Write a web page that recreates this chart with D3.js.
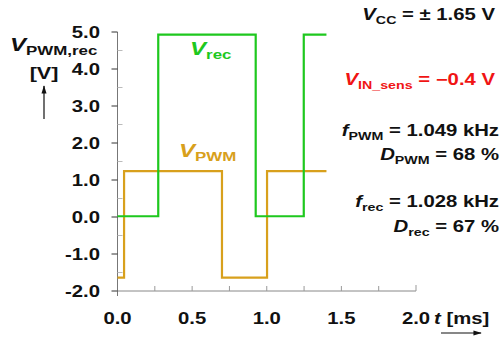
<!DOCTYPE html>
<html>
<head>
<meta charset="utf-8">
<script src="https://cdn.jsdelivr.net/npm/d3@7"></script>
<style>
	body { margin: 0; background: #fff; }
	svg text { font-family: Arial, "Liberation Sans", sans-serif; font-weight: bold; }
</style>
</head>
<body>
<div id="chart"></div>
<script>
// waveform data (t in ms, volts)
const recTime = [0, 0.273, 0.273, 0.926, 0.926, 1.248, 1.248, 1.40];
const recVolt = [0.02, 0.02, 4.93, 4.93, 0.02, 0.02, 4.93, 4.93];
const pwmTime = [0, 0.044, 0.044, 0.700, 0.700, 1.002, 1.002, 1.40];
const pwmVolt = [-1.64, -1.64, 1.24, 1.24, -1.64, -1.64, 1.24, 1.24];

const xTicks = [0, 0.5, 1.0, 1.5, 2.0];
const xMinorTicks = [0.25, 0.5, 0.75, 1.0, 1.25, 1.5, 1.75];
const yTicks = [-2, -1, 0, 1, 2, 3, 4, 5];
const yMinorTicks = [-1.5, -0.5, 0.5, 1.5, 2.5, 3.5, 4.5];

const width = 501, height = 337;
const green = '#1ec81e', gold = '#d8a01c', red = '#f01414';
const stretch = 1.27; // glyphs in the original are wide

let svg = d3.select('#chart').append('svg')
	.attr('width', width)
	.attr('height', height);

let x = d3.scaleLinear().domain([0, 2]).range([117.5, 416]);
let y = d3.scaleLinear().domain([-2, 5]).range([291, 32]);

// text with italic symbol + subscript parts
function richText(px, py, parts, anchor, color, size) {
	let g = svg.append('g')
		.attr('transform', `translate(${px},${py}) scale(${stretch},1)`);
	let t = g.append('text')
		.attr('text-anchor', anchor)
		.attr('fill', color)
		.style('font-size', size + 'px');
	let shifted = 0;
	parts.forEach(p => {
		let dy = 0;
		if (p.sub && !shifted) { dy = 4; shifted = 4; }
		else if (!p.sub && shifted) { dy = -shifted; shifted = 0; }
		t.append('tspan')
			.attr('dy', dy)
			.style('font-style', p.it ? 'italic' : 'normal')
			.style('font-size', (p.sub ? size * 0.7 : size) + 'px')
			.text(p.t);
	});
	return t;
}

// axes
let axisGroup = svg.append('g').attr('class', 'axis-group');

axisGroup.append('line')
	.attr('x1', x(0)).attr('x2', x(0))
	.attr('y1', y(5)).attr('y2', y(-2) + 5)
	.attr('stroke', '#777').attr('stroke-width', 1);
axisGroup.append('line')
	.attr('x1', x(0)).attr('x2', x(2))
	.attr('y1', y(-2)).attr('y2', y(-2))
	.attr('stroke', '#888').attr('stroke-width', 1);

axisGroup.selectAll('.ytick').data(yTicks).join('line')
	.attr('class', 'ytick')
	.attr('x1', x(0) - 6).attr('x2', x(0))
	.attr('y1', d => y(d)).attr('y2', d => y(d))
	.attr('stroke', '#333');
axisGroup.selectAll('.yminor').data(yMinorTicks).join('line')
	.attr('class', 'yminor')
	.attr('x1', x(0)).attr('x2', x(0) + 5)
	.attr('y1', d => y(d)).attr('y2', d => y(d))
	.attr('stroke', '#bbb');
axisGroup.selectAll('.xminor').data(xMinorTicks).join('line')
	.attr('class', 'xminor')
	.attr('x1', d => x(d)).attr('x2', d => x(d))
	.attr('y1', y(-2)).attr('y2', y(-2) - 5)
	.attr('stroke', '#999');
axisGroup.append('line')
	.attr('x1', x(2)).attr('x2', x(2))
	.attr('y1', y(-2)).attr('y2', y(-2) - 6)
	.attr('stroke', '#999');

yTicks.forEach(d => {
	richText(100, y(d) + 6, [{t: d.toFixed(1)}], 'end', '#111', 16);
});
xTicks.forEach(d => {
	richText(x(d), 324, [{t: d.toFixed(1)}], 'middle', '#111', 16);
});

// lines
let line = d3.line()
	.x(d => x(d[0]))
	.y(d => y(d[1]));

let lineGroup = svg.append('g').attr('class', 'line-group');
lineGroup.append('path')
	.datum(pwmTime.map((t, i) => [t, pwmVolt[i]]))
	.attr('d', line)
	.attr('fill', 'none')
	.attr('stroke', gold)
	.attr('stroke-width', 2.2);
lineGroup.append('path')
	.datum(recTime.map((t, i) => [t, recVolt[i]]))
	.attr('d', line)
	.attr('fill', 'none')
	.attr('stroke', green)
	.attr('stroke-width', 2.2);

// series labels
richText(190, 55, [{t: 'V', it: true}, {t: 'rec', sub: true}], 'start', green, 19);
richText(179, 157, [{t: 'V', it: true}, {t: 'PWM', sub: true}], 'start', gold, 19);

// axis titles
richText(10, 51, [{t: 'V', it: true}, {t: 'PWM,rec', sub: true}], 'start', '#111', 19);
richText(44, 79, [{t: '[V]'}], 'middle', '#111', 17);
richText(434, 324, [{t: 't', it: true}, {t: ' [ms]'}], 'start', '#111', 16);

let defs = svg.append('defs');
defs.append('marker')
	.attr('id', 'arr')
	.attr('viewBox', '0 0 10 10')
	.attr('refX', 9).attr('refY', 5)
	.attr('markerWidth', 7).attr('markerHeight', 7)
	.attr('orient', 'auto')
	.append('path').attr('d', 'M0,2 L10,5 L0,8 Z').attr('fill', '#111');

svg.append('line')
	.attr('x1', 44).attr('x2', 44)
	.attr('y1', 119).attr('y2', 86)
	.attr('stroke', '#111').attr('stroke-width', 1.2)
	.attr('marker-end', 'url(#arr)');
svg.append('line')
	.attr('x1', 441).attr('x2', 481)
	.attr('y1', 333).attr('y2', 333)
	.attr('stroke', '#111').attr('stroke-width', 1.2)
	.attr('marker-end', 'url(#arr)');

// annotations on the right
richText(495, 20, [{t: 'V', it: true}, {t: 'CC', sub: true}, {t: ' = \u00b1 1.65 V'}], 'end', '#111', 16);
richText(495, 85, [{t: 'V', it: true}, {t: 'IN_sens', sub: true}, {t: ' = \u22120.4 V'}], 'end', red, 16);
richText(499, 136, [{t: 'f', it: true}, {t: 'PWM', sub: true}, {t: ' = 1.049 kHz'}], 'end', '#111', 16);
richText(499, 160, [{t: 'D', it: true}, {t: 'PWM', sub: true}, {t: ' = 68 %'}], 'end', '#111', 16);
richText(499, 207, [{t: 'f', it: true}, {t: 'rec', sub: true}, {t: ' = 1.028 kHz'}], 'end', '#111', 16);
richText(499, 232, [{t: 'D', it: true}, {t: 'rec', sub: true}, {t: ' = 67 %'}], 'end', '#111', 16);
</script>
</body>
</html>
